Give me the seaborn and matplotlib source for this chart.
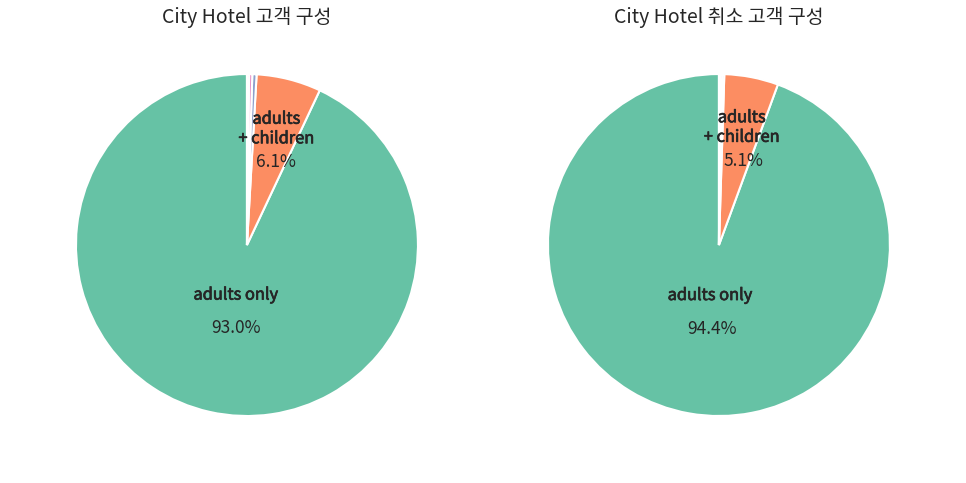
import numpy as np
import matplotlib
matplotlib.use('Agg')
import matplotlib.pyplot as plt
import matplotlib.patheffects as pe
import seaborn as sns

# 데이터 (그림에서 읽은 값, %)
categories = ['adults only', 'adults\n+ children', 'children only', 'adults + babies', 'babies only']
city_all = [93.0, 6.1, 0.4, 0.3, 0.2]
city_canceled = [94.4, 5.1, 0.2, 0.2, 0.1]
titles = ['City Hotel 고객 구성', 'City Hotel 취소 고객 구성']

sns.set_theme(style='white')
plt.rcParams['font.family'] = ['Noto Sans CJK KR', 'DejaVu Sans']
colors = sns.color_palette('Set2', len(categories))

fig = plt.figure(figsize=(9.66, 4.83), dpi=100)
axes = [fig.add_axes([0.0344, 0.0502, 0.4425, 0.885]),
        fig.add_axes([0.5230, 0.0502, 0.4425, 0.885])]

for ax, values, title in zip(axes, [city_all, city_canceled], titles):
    shown = [c if v > 3 else '' for c, v in zip(categories, values)]
    wedges, texts, autotexts = ax.pie(
        values, labels=shown, colors=colors, startangle=90,
        autopct=lambda p: f'{p:.1f}%' if p > 3 else '',
        labeldistance=0.3, pctdistance=0.5,
        wedgeprops={'edgecolor': 'white', 'linewidth': 1.5},
        textprops={'fontsize': 12, 'color': '.15'})
    for i, t in enumerate(texts):
        t.set_ha('center')
        t.set_fontsize(11.8)
        # 살짝 두껍게 (semibold 느낌)
        t.set_path_effects([pe.withStroke(linewidth=0.5, foreground='.15')])
        if i == 1:
            w = wedges[i]
            ang = np.deg2rad((w.theta1 + w.theta2) / 2)
            t.set_position((0.7 * np.cos(ang), 0.7 * np.sin(ang)))
    for t in autotexts:
        x, y = t.get_position()
        t.set_fontsize(12.5)
        t.set_position((x + 0.047, y))
    ax.set_title(title, fontsize=14, color='.15')
    ax.set_aspect('equal')

fig.savefig('out.png', dpi=100)
